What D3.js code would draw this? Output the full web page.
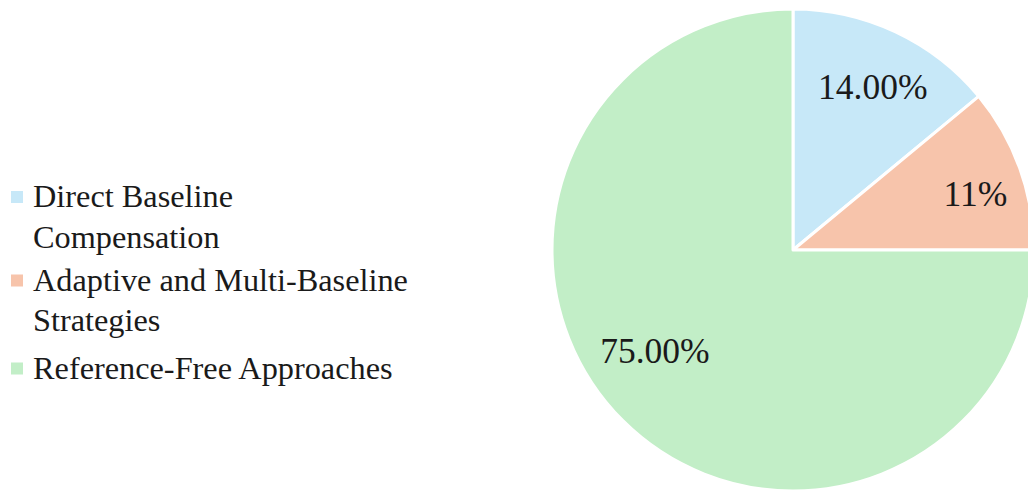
<!DOCTYPE html>
<html>
<head>
<meta charset="utf-8">
<script src="https://cdn.jsdelivr.net/npm/d3@7"></script>
<style>
  html, body { margin: 0; padding: 0; background: #ffffff; }
  svg { display: block; }
</style>
</head>
<body>
<svg id="chart" width="1028" height="494"></svg>
<script>
// Share of baseline-handling methods
const categories = [
  "Direct Baseline Compensation",
  "Adaptive and Multi-Baseline Strategies",
  "Reference-Free Approaches"
];
const legendLines = [
  ["Direct Baseline", "Compensation"],
  ["Adaptive and Multi-Baseline", "Strategies"],
  ["Reference-Free Approaches"]
];
const shares = [14, 11, 75];
const sliceLabels = ["14.00%", "11%", "75.00%"];
const colors = ["#c7e8f8", "#f7c4ab", "#c2eec7"];

const FONT = "'Liberation Serif', Tinos, 'Times New Roman', 'DejaVu Serif', serif";

const svg = d3.select("#chart");
const cx = 793, cy = 250, radius = 241;

const pie = d3.pie().sort(null).value(d => d)(shares);
const arc = d3.arc().innerRadius(0).outerRadius(radius);

const g = svg.append("g").attr("transform", `translate(${cx},${cy})`);

g.selectAll("path.slice")
  .data(pie)
  .join("path")
  .attr("class", "slice")
  .attr("d", arc)
  .attr("fill", (d, i) => colors[i])
  .attr("stroke", "#ffffff")
  .attr("stroke-width", 3)
  .attr("stroke-linejoin", "round");

// Slice labels: radial distance (fraction of radius) and angular nudge (degrees)
const labelRadius = [0.753, 0.792, 0.71];
const labelNudge = [0.9, 2.7, 8.8];
const labelPos = (d, i) => {
  const a = (d.startAngle + d.endAngle) / 2 + labelNudge[i] * Math.PI / 180;
  const r = radius * labelRadius[i];
  return [Math.sin(a) * r, -Math.cos(a) * r];
};
g.selectAll("text.value")
  .data(pie)
  .join("text")
  .attr("class", "value")
  .attr("text-anchor", "middle")
  .attr("font-family", FONT)
  .attr("font-size", 35.5)
  .attr("fill", "#1a1a1a")
  .attr("x", (d, i) => labelPos(d, i)[0])
  .attr("y", (d, i) => labelPos(d, i)[1])
  .attr("dy", "0.34em")
  .text((d, i) => sliceLabels[i]);

// Legend
const legend = svg.append("g");
const lineH = 40.5;
const groupGap = [2.5, 7];
let y = 207;
legendLines.forEach((lines, i) => {
  const item = legend.append("g");
  item.append("rect")
    .attr("x", 11).attr("y", y - 16)
    .attr("width", 12).attr("height", 12)
    .attr("fill", colors[i]);
  lines.forEach((t, j) => {
    item.append("text")
      .attr("x", 33)
      .attr("y", y + j * lineH)
      .attr("font-family", FONT)
      .attr("font-size", 32.3)
      .attr("fill", "#1a1a1a")
      .text(t);
  });
  y += lines.length * lineH + (groupGap[i] || 0);
});
</script>
</body>
</html>
